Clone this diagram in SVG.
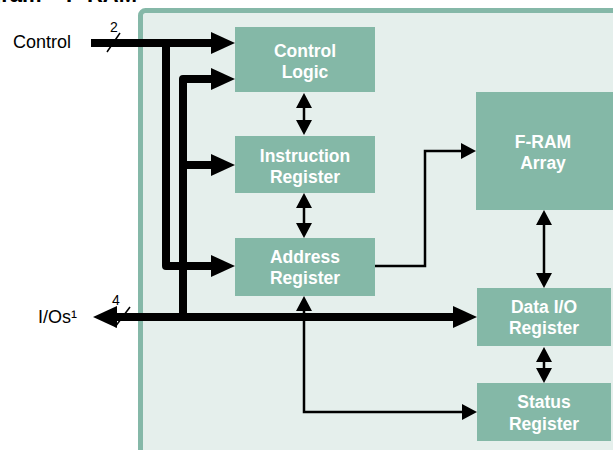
<svg xmlns="http://www.w3.org/2000/svg" width="613" height="450" viewBox="0 0 613 450">
  <style>
    .box { fill: #84b8a7; }
    .lbl { font-family: "Liberation Sans", Arial, sans-serif; font-weight: bold; font-size: 17.5px; fill: #ffffff; text-anchor: middle; }
    .ext { font-family: "Liberation Sans", Arial, sans-serif; font-size: 18px; fill: #000000; }
    .num { font-family: "Liberation Sans", Arial, sans-serif; font-size: 14px; fill: #000000; text-anchor: middle; }
    .bus { fill: none; stroke: #000; stroke-width: 8; stroke-linejoin: round; }
    .sig { fill: none; stroke: #000; stroke-width: 2.5; stroke-linejoin: miter; }
  </style>
  <defs>
    <marker id="bigHead" markerUnits="userSpaceOnUse" markerWidth="24" markerHeight="22" refX="2" refY="11" orient="auto-start-reverse">
      <path d="M0,0 L24,11 L0,22 z" fill="#000"/>
    </marker>
    <marker id="smallHead" markerUnits="userSpaceOnUse" markerWidth="15" markerHeight="16" refX="2" refY="8" orient="auto-start-reverse">
      <path d="M0,0 L15,8 L0,16 z" fill="#000"/>
    </marker>
  </defs>

  <rect width="613" height="450" fill="#ffffff"/>

  <!-- heading, clipped by the top edge -->
  <text x="137" y="2" text-anchor="end" font-family="Liberation Sans, Arial, sans-serif" font-weight="bold" font-size="22">Block Diagram – F-RAM</text>

  <!-- device outline -->
  <rect id="device" x="140.5" y="10.5" width="490" height="460" rx="5" fill="#e5efec" stroke="#85b8a8" stroke-width="5"/>

  <!-- external pin labels -->
  <text class="ext" x="13" y="48">Control</text>
  <text class="ext" x="38" y="323">I/Os¹</text>
  <text class="num" x="114" y="32">2</text>
  <text class="num" x="116" y="305">4</text>

  <g id="connectors">
    <!-- wide buses -->
    <path class="bus" d="M91,43 H213" marker-end="url(#bigHead)"/>
    <path class="bus" d="M166,43 V266 H213" marker-end="url(#bigHead)"/>
    <path class="bus" d="M183,317 V79 H213" marker-end="url(#bigHead)"/>
    <path class="bus" d="M183,165 H213" marker-end="url(#bigHead)"/>
    <path class="bus" d="M115,317 H455" marker-start="url(#bigHead)" marker-end="url(#bigHead)"/>
    <!-- bus width ticks -->
    <line x1="107" y1="52" x2="120" y2="33" stroke="#000" stroke-width="1.5"/>
    <line x1="115" y1="327" x2="130" y2="307" stroke="#000" stroke-width="1.5"/>

    <!-- single signals -->
    <path class="sig" d="M304,106 V122" marker-start="url(#smallHead)" marker-end="url(#smallHead)"/>
    <path class="sig" d="M304,206 V225" marker-start="url(#smallHead)" marker-end="url(#smallHead)"/>
    <path class="sig" d="M375,266 H425 V151 H463" marker-end="url(#smallHead)"/>
    <path class="sig" d="M304,309 V412 H464" marker-start="url(#smallHead)" marker-end="url(#smallHead)"/>
    <path class="sig" d="M544,223 V275" marker-start="url(#smallHead)" marker-end="url(#smallHead)"/>
    <path class="sig" d="M544,360 V370" marker-start="url(#smallHead)" marker-end="url(#smallHead)"/>
  </g>

  <g id="control-logic">
    <rect class="box" x="235" y="27" width="140" height="65"/>
    <text class="lbl" x="305" y="57">Control</text>
    <text class="lbl" x="305" y="78">Logic</text>
  </g>
  <g id="instruction-register">
    <rect class="box" x="235" y="136" width="140" height="57"/>
    <text class="lbl" x="305" y="162">Instruction</text>
    <text class="lbl" x="305" y="183">Register</text>
  </g>
  <g id="address-register">
    <rect class="box" x="235" y="238" width="140" height="58"/>
    <text class="lbl" x="305" y="263">Address</text>
    <text class="lbl" x="305" y="284">Register</text>
  </g>
  <g id="fram-array">
    <rect class="box" x="476" y="92" width="137" height="118"/>
    <text class="lbl" x="543" y="148">F-RAM</text>
    <text class="lbl" x="543" y="169">Array</text>
  </g>
  <g id="data-io-register">
    <rect class="box" x="477" y="288" width="134" height="58"/>
    <text class="lbl" x="544" y="313">Data I/O</text>
    <text class="lbl" x="544" y="334">Register</text>
  </g>
  <g id="status-register">
    <rect class="box" x="477" y="383" width="134" height="58"/>
    <text class="lbl" x="544" y="408">Status</text>
    <text class="lbl" x="544" y="430">Register</text>
  </g>
</svg>
